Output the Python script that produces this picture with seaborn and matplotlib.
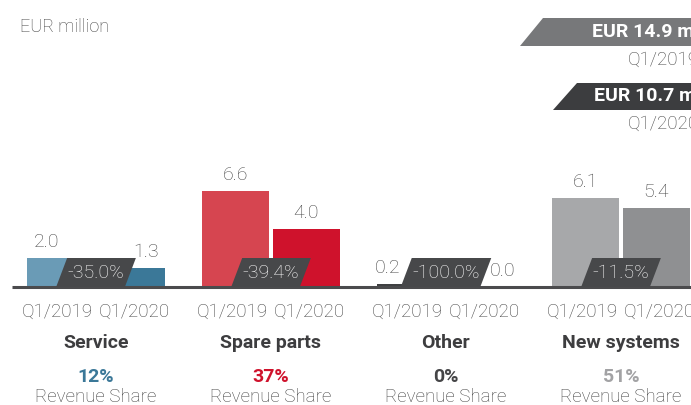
import numpy as np
import pandas as pd
import matplotlib.pyplot as plt
from matplotlib.patches import Polygon
import seaborn as sns

# data (EUR million)
categories = ['Service', 'Spare parts', 'Other', 'New systems']
periods = ['Q1/2019', 'Q1/2020']
q1_2019 = [2.0, 6.6, 0.2, 6.1]
q1_2020 = [1.3, 4.0, 0.0, 5.4]
changes = ['-35.0%', '-39.4%', '-100.0%', '-11.5%']
shares = ['12%', '37%', '0%', '51%']

colors_2019 = ['#6a9bb6', '#d64550', '#3f4042', '#a7a8aa']
colors_2020 = ['#3b7898', '#cf122c', '#3f4042', '#8f9092']
share_colors = ['#3b7898', '#cf122c', '#454547', '#a2a2a4']
banner_colors = ['#77787a', '#3c3d3f']
# sideways nudge (px) for value labels that would sit on the change badge
label_dx = [[-14, 15], [0, 0], [-23, 21], [0, 0]]

sns.set_style("white")
plt.rcParams['font.family'] = ['Roboto', 'DejaVu Sans']

W, H = 691, 405
X0, XS = 96, 175      # pixel centre of first group, px per category
Y0, YS = 287, 14.55   # baseline pixel row, px per EUR million

def px(x):
    return (x - X0) / XS

def py(y):
    return (Y0 - y) / YS

fig = plt.figure(figsize=(W / 100, H / 100), dpi=100)
ax = fig.add_axes([0, 0, 1, 1])

df = pd.DataFrame({
    'category': categories * 2,
    'period': [periods[0]] * 4 + [periods[1]] * 4,
    'value': q1_2019 + q1_2020,
})
sns.barplot(data=df, x='category', y='value', hue='period', order=categories,
            hue_order=periods, width=0.806, gap=0.05, errorbar=None,
            legend=False, ax=ax)

ax.set_xlim(px(0), px(W))
ax.set_ylim(py(H), py(0))
ax.axis('off')

txt_col = '#444444'
fs = 13.5
for j, cont in enumerate(ax.containers):
    cols = colors_2019 if j == 0 else colors_2020
    vals = q1_2019 if j == 0 else q1_2020
    for i, bar in enumerate(cont):
        bar.set_facecolor(cols[i])
        bar.set_edgecolor('none')
        cx = bar.get_x() + bar.get_width() / 2
        ax.text(cx + label_dx[i][j] / XS, vals[i] + 7 / YS, f'{vals[i]:.1f}',
                ha='center', va='bottom', fontsize=14, fontweight='light',
                color=txt_col)
        ax.text(cx + (2 * j - 1) * 3 / XS, py(312), periods[j], ha='center',
                va='center', fontsize=fs, fontweight='light', color=txt_col)

ax.plot([px(12), px(W)], [0, 0], color='#4b4b4d', lw=2.2,
        solid_capstyle='butt', zorder=3)

fig.canvas.draw()
renderer = fig.canvas.get_renderer()
slant = 11
for i, lab in enumerate(changes):
    t = ax.text(i, py(272.5), lab, ha='center', va='center', fontsize=14,
                fontweight='light', color='white', zorder=6)
    hw = t.get_window_extent(renderer).width / 2 + 6
    c = X0 + i * XS
    pts = [(px(c - hw - slant / 2), py(Y0)), (px(c + hw - slant / 2), py(Y0)),
           (px(c + hw + slant / 2), py(258)), (px(c - hw + slant / 2), py(258))]
    ax.add_patch(Polygon(pts, closed=True, facecolor='#47484a',
                         edgecolor='none', zorder=5))

    ax.text(i, py(343), categories[i], ha='center', va='center', fontsize=14,
            fontweight='bold', color='#3d3d3f')
    ax.text(i, py(377), shares[i], ha='center', va='center', fontsize=14,
            fontweight='bold', color=share_colors[i])
    ax.text(i, py(397), 'Revenue Share', ha='center', va='center',
            fontsize=fs, fontweight='light', color=txt_col)

ax.text(px(20), py(27), 'EUR million', ha='left', va='center', fontsize=13,
        fontweight='light', color=txt_col)

# total revenue banners, top right
totals = [sum(q1_2019), sum(q1_2020)]
banners = [(520, 543, 18, 46, 592), (553, 577, 83, 110, 594)]
for k, (xb, xt, yt, yb, xtxt) in enumerate(banners):
    pts = [(px(xb), py(yb)), (px(xt), py(yt)), (px(W + 10), py(yt)),
           (px(W + 10), py(yb))]
    ax.add_patch(Polygon(pts, closed=True, facecolor=banner_colors[k],
                         edgecolor='none', zorder=2))
    ax.text(px(xtxt), py((yt + yb) / 2), f'EUR {totals[k]:.1f} million',
            ha='left', va='center', fontsize=14, fontweight='bold',
            color='white', zorder=3)
    ax.text(px(628), py(yb + 14), periods[k], ha='left', va='center',
            fontsize=fs, fontweight='light', color=txt_col)

fig.savefig('out.png', dpi=100)
